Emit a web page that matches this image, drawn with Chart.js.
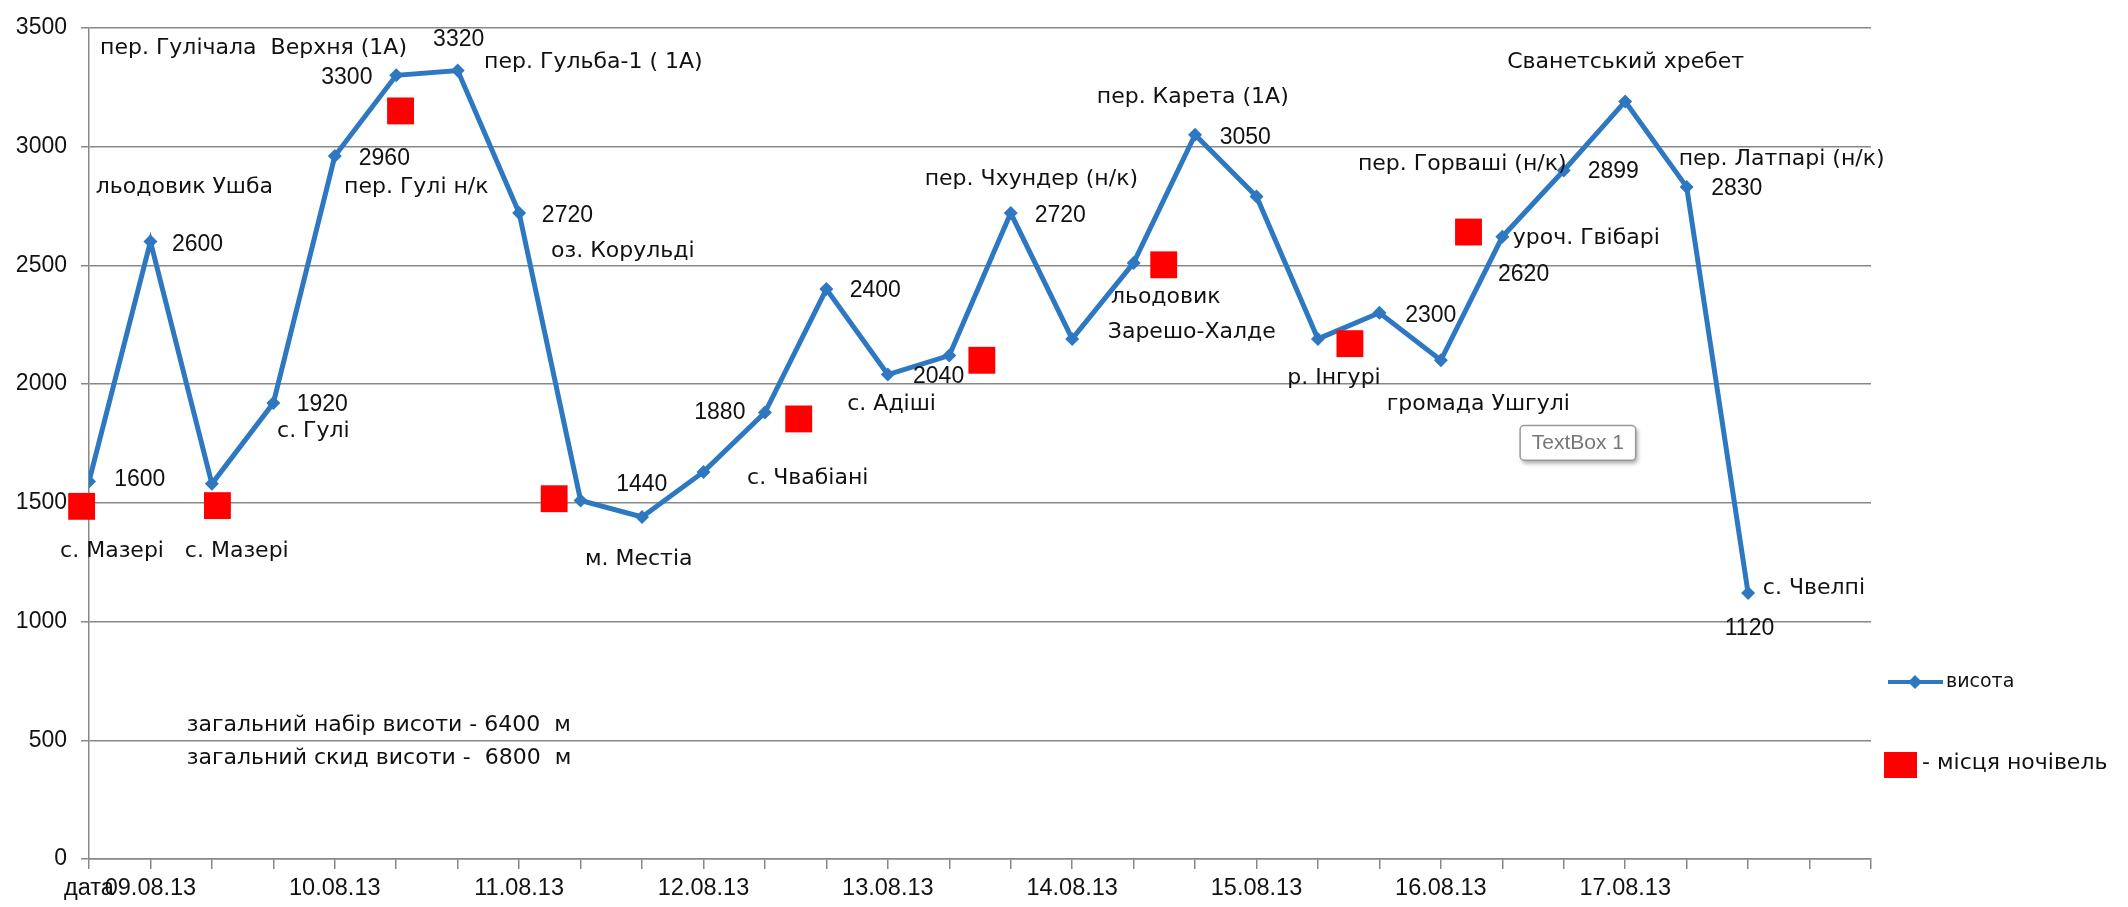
<!DOCTYPE html>
<html>
<head>
<meta charset="utf-8">
<script src="https://cdn.jsdelivr.net/npm/chart.js@4.4.0/dist/chart.umd.min.js"></script>
<style>
html,body{margin:0;padding:0;background:#fff;}
#wrap{width:2128px;height:907px;position:relative;}
</style>
</head>
<body>
<div id="wrap"><canvas id="altChart"></canvas></div>
<script>
// category labels (one per point slot, 3 per day)
const dateLabels = ["дата","09.08.13","","","10.08.13","","","11.08.13","","","12.08.13","","","13.08.13","","",
    "14.08.13","","","15.08.13","","","16.08.13","","","17.08.13","","","",""];

// altitude of each point of the route, m
const heights = [1590, 2600, 1580, 1920, 2960, 3300, 3320, 2720, 1510, 1440, 1630, 1880, 2400, 2040,
    2120, 2720, 2190, 2510, 3050, 2790, 2190, 2300, 2100, 2620, 2899, 3190, 2830, 1120];

// overnight stays (red squares): slot position and altitude
const campX = [-0.12, 2.09, 5.07, 7.57, 11.55, 14.53, 17.49, 20.52, 22.45];
const campY = [1485, 1488, 3150, 1517, 1853, 2100, 2502, 2170, 2640];

const yTicks = {min: 0, max: 3500, step: 500};

// text notes: [text, slot, altitude]
const notes = [
    ["пер. Гулічала  Верхня (1А)", 0.18, 3412],
    ["3320", 5.60, 3450],
    ["пер. Гульба-1 ( 1А)", 6.43, 3354],
    ["3300", 3.78, 3288],
    ["2960", 4.39, 2947],
    ["пер. Гулі н/к", 4.15, 2830],
    ["льодовик Ушба", 0.11, 2830],
    ["2720", 7.37, 2710],
    ["оз. Корульді", 7.52, 2560],
    ["2600", 1.35, 2585],
    ["1920", 3.38, 1912],
    ["с. Гулі", 3.06, 1800],
    ["1600", 0.41, 1596],
    ["с. Мазері", -0.47, 1297],
    ["с. Мазері", 1.56, 1297],
    ["1440", 8.58, 1575],
    ["м. Местіа", 8.07, 1264],
    ["1880", 9.85, 1879],
    ["с. Чвабіані", 10.71, 1604],
    ["с. Адіші", 12.34, 1916],
    ["2040", 13.41, 2032],
    ["2400", 12.38, 2394],
    ["пер. Чхундер (н/к)", 13.60, 2864],
    ["2720", 15.39, 2710],
    ["льодовик", 16.63, 2365],
    ["Зарешо-Халде", 16.58, 2219],
    ["пер. Карета (1А)", 16.40, 3209],
    ["3050", 18.40, 3038],
    ["р. Інгурі", 19.50, 2024],
    ["2300", 21.42, 2290],
    ["громада Ушгулі", 21.12, 1916],
    ["пер. Горваші (н/к)", 20.65, 2926],
    ["2899", 24.39, 2893],
    ["уроч. Гвібарі", 23.17, 2614],
    ["2620", 22.93, 2460],
    ["Сванетський хребет", 23.08, 3354],
    ["пер. Латпарі (н/к)", 25.87, 2947],
    ["2830", 26.40, 2822],
    ["с. Чвелпі", 27.24, 1139],
    ["1120", 26.62, 968],
    ["загальний набір висоти - 6400  м", 1.59, 565],
    ["загальний скид висоти -  6800  м", 1.59, 424]
];

const BLUE = "#2E78C2";
const GRID = "#888888";
const FONT = '"Liberation Sans", Arial, sans-serif';
const WIDE = '"DejaVu Sans", sans-serif';

const notesPlugin = {
    id: "notes",
    afterDatasetsDraw(chart){
        const ctx = chart.ctx, x = chart.scales.x, y = chart.scales.y, area = chart.chartArea;
        ctx.save();
        ctx.fillStyle = "#111";
        ctx.textBaseline = "middle";
        ctx.textAlign = "left";
        notes.forEach(n => {
            // numbers look fine in Liberation, words need the wider face
            ctx.font = /^\d+$/.test(n[0]) ? "23px " + FONT : "22px " + WIDE;
            ctx.fillText(n[0], x.getPixelForValue(n[1]), y.getPixelForValue(n[2]));
        });

        // the stray "TextBox 1" frame
        let bx = x.getPixelForValue(23.29), by = y.getPixelForValue(1825);
        let bw = x.getPixelForValue(25.17) - bx, bh = y.getPixelForValue(1679) - by;
        ctx.shadowColor = "rgba(0,0,0,0.35)";
        ctx.shadowBlur = 4; ctx.shadowOffsetX = 2; ctx.shadowOffsetY = 3;
        ctx.fillStyle = "#fff";
        ctx.beginPath(); ctx.roundRect(bx, by, bw, bh, 4); ctx.fill();
        ctx.shadowColor = "transparent";
        ctx.strokeStyle = "#999"; ctx.lineWidth = 1.5; ctx.stroke();
        ctx.fillStyle = "#777";
        ctx.font = "21px " + FONT;
        ctx.textAlign = "center";
        ctx.fillText("TextBox 1", bx + bw/2, by + bh/2);

        // legend
        let lx = area.right + 17, ly = 682;
        ctx.strokeStyle = BLUE; ctx.lineWidth = 4;
        ctx.beginPath(); ctx.moveTo(lx, ly); ctx.lineTo(lx + 55, ly); ctx.stroke();
        ctx.fillStyle = BLUE;
        ctx.beginPath(); ctx.moveTo(lx+27, ly-7); ctx.lineTo(lx+34, ly); ctx.lineTo(lx+27, ly+7); ctx.lineTo(lx+20, ly); ctx.fill();
        ctx.fillStyle = "#111";
        ctx.textAlign = "left";
        ctx.font = "19px " + WIDE;
        ctx.fillText("висота", lx + 58, ly);
        ctx.fillStyle = "#FF0000";
        ctx.fillRect(area.right + 13, 752, 33, 26);
        ctx.fillStyle = "#111";
        ctx.font = "22px " + WIDE;
        ctx.fillText("- місця ночівель", area.right + 51, 763);
        ctx.restore();
    }
};

new Chart(document.getElementById("altChart"), {
    type: "line",
    data: {
        datasets: [
            {
                label: "висота",
                data: heights.map((v, i) => ({x: i, y: v})),
                borderColor: BLUE,
                backgroundColor: BLUE,
                borderWidth: 5,
                pointStyle: "rectRot",
                pointRadius: 7,
                pointBorderWidth: 0,
                tension: 0,
                order: 2
            },
            {
                label: "місця ночівель",
                data: campX.map((v, i) => ({x: v, y: campY[i]})),
                showLine: false,
                pointStyle: "rect",
                pointRadius: 19,
                pointBorderWidth: 0,
                backgroundColor: "#FF0000",
                borderColor: "#FF0000",
                clip: false,
                order: 1
            }
        ]
    },
    options: {
        responsive: true,
        maintainAspectRatio: false,
        animation: false,
        layout: {padding: {top: 17, right: 257, left: 0, bottom: 0}},
        plugins: {legend: {display: false}, tooltip: {enabled: false}},
        scales: {
            x: {
                type: "linear",
                min: 0, max: dateLabels.length - 1,
                afterFit(s){ s.height = 48; },
                ticks: {
                    stepSize: 1, autoSkip: false, maxRotation: 0, padding: 5,
                    color: "#111", font: {family: FONT, size: 23.5},
                    callback: v => dateLabels[v] ?? ""
                },
                grid: {drawOnChartArea: false, drawTicks: true, tickLength: 10, color: GRID, lineWidth: 1.5},
                border: {color: GRID, width: 1.5}
            },
            y: {
                min: yTicks.min, max: yTicks.max,
                afterFit(s){ s.width = 89; },
                ticks: {stepSize: yTicks.step, padding: 14, color: "#111", font: {family: FONT, size: 23},
                    callback: v => String(v)},
                grid: {color: GRID, lineWidth: 1.5, tickLength: 8},
                border: {color: GRID, width: 1.5}
            }
        }
    },
    plugins: [notesPlugin]
});
</script>
</body>
</html>
